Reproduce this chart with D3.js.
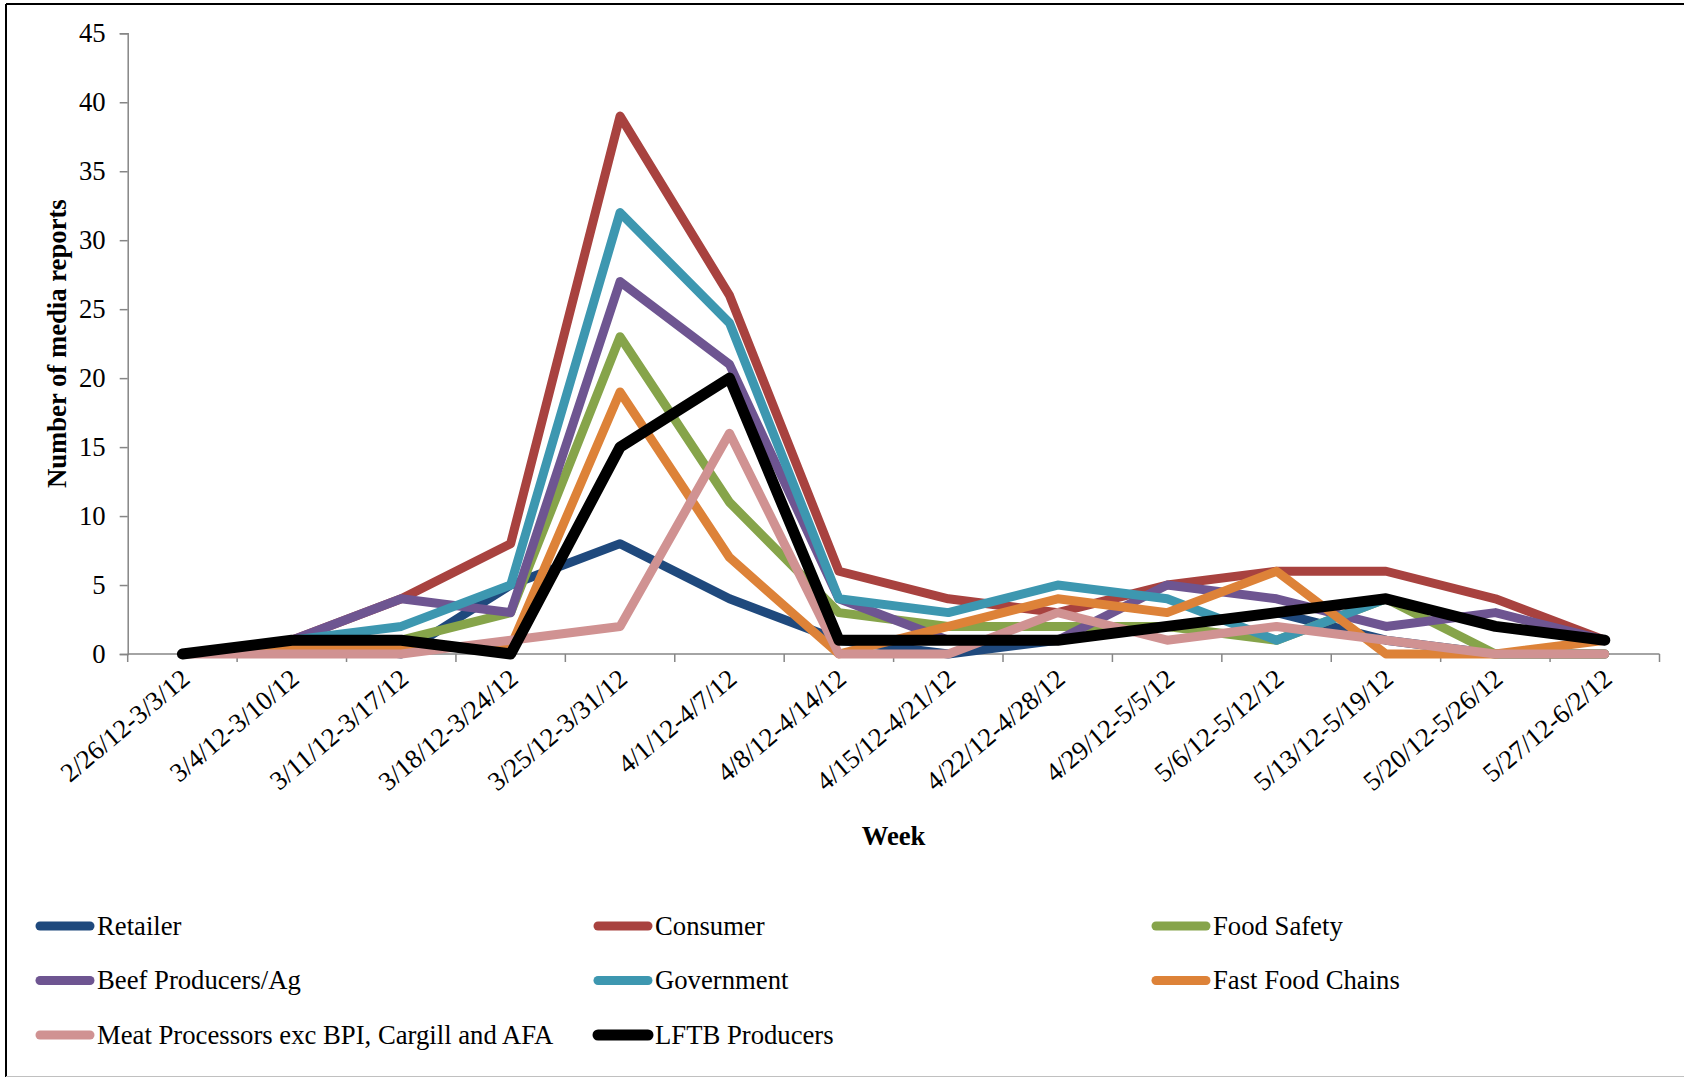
<!DOCTYPE html>
<html>
<head>
<meta charset="utf-8">
<script src="https://cdn.jsdelivr.net/npm/d3@7"></script>
<style>
  html, body { margin: 0; padding: 0; background: #fff; }
  svg { display: block; }
  text { font-family: "Liberation Serif", "Times New Roman", serif; fill: #000; }
</style>
</head>
<body>
<svg id="chart" width="1684" height="1077"></svg>
<script>
// Weekly media reports by stakeholder group
const weeks = [
  "2/26/12-3/3/12", "3/4/12-3/10/12", "3/11/12-3/17/12", "3/18/12-3/24/12",
  "3/25/12-3/31/12", "4/1/12-4/7/12", "4/8/12-4/14/12", "4/15/12-4/21/12",
  "4/22/12-4/28/12", "4/29/12-5/5/12", "5/6/12-5/12/12", "5/13/12-5/19/12",
  "5/20/12-5/26/12", "5/27/12-6/2/12"
];
const seriesNames = [
  "Retailer", "Consumer", "Food Safety", "Beef Producers/Ag", "Government",
  "Fast Food Chains", "Meat Processors exc BPI, Cargill and AFA", "LFTB Producers"
];
const retailer       = [0, 1, 0, 5, 8, 4, 1, 0, 1, 2, 3, 1, 0, 0];
const consumer       = [0, 1, 4, 8, 39, 26, 6, 4, 3, 5, 6, 6, 4, 1];
const foodSafety     = [0, 1, 1, 3, 23, 11, 3, 2, 2, 2, 1, 4, 0, 0];
const beefProducers  = [0, 1, 4, 3, 27, 21, 4, 1, 1, 5, 4, 2, 3, 1];
const government     = [0, 1, 2, 5, 32, 24, 4, 3, 5, 4, 1, 4, 2, 1];
const fastFood       = [0, 0.5, 0.5, 0.5, 19, 7, 0, 2, 4, 3, 6, 0, 0, 1];
const meatProcessors = [0, 0, 0, 1, 2, 16, 0, 0, 3, 1, 2, 1, 0, 0];
const lftbProducers  = [0, 1, 1, 0, 15, 20, 1, 1, 1, 2, 3, 4, 2, 1];
const yTicks = [0, 5, 10, 15, 20, 25, 30, 35, 40, 45];

const seriesValues = [retailer, consumer, foodSafety, beefProducers, government,
                      fastFood, meatProcessors, lftbProducers];
const seriesColors = ["#1F497D", "#A8423F", "#86A44A", "#6E5591", "#3D97B0",
                      "#DD8238", "#D09292", "#000000"];

const svg = d3.select("#chart");
const plot = { left: 127.7, right: 1659.5, top: 33.3, bottom: 654 };
const FONT = 26.7;

// Outer frame
svg.append("line").attr("x1", 6).attr("y1", 4).attr("x2", 1684).attr("y2", 4)
  .attr("stroke", "#000").attr("stroke-width", 2);
svg.append("line").attr("x1", 6).attr("y1", 4).attr("x2", 6).attr("y2", 1077)
  .attr("stroke", "#000").attr("stroke-width", 2);
svg.append("line").attr("x1", 6).attr("y1", 1076.5).attr("x2", 1684).attr("y2", 1076.5)
  .attr("stroke", "#c0c0c0").attr("stroke-width", 1);

const x = d3.scaleBand().domain(weeks).range([plot.left, plot.right]);
const y = d3.scaleLinear().domain([0, 45]).range([plot.bottom, plot.top]);
const cx = w => x(w) + x.bandwidth() / 2;

// Y axis
const yAxis = svg.append("g")
  .attr("transform", `translate(${plot.left},0)`)
  .call(d3.axisLeft(y).tickValues(yTicks).tickSize(8).tickPadding(14));
yAxis.select(".domain").attr("stroke", "#868686").attr("stroke-width", 1.5);
yAxis.selectAll(".tick line").attr("stroke", "#868686").attr("stroke-width", 1.5);
yAxis.selectAll(".tick text")
  .style("font-family", '"Liberation Serif", serif')
  .style("font-size", FONT + "px").attr("fill", "#000");

// X axis with category boundary ticks
const xAxis = svg.append("g")
  .attr("transform", `translate(0,${plot.bottom})`);
xAxis.append("line").attr("x1", plot.left).attr("x2", plot.right)
  .attr("stroke", "#868686").attr("stroke-width", 1.5);
const boundaries = d3.range(weeks.length + 1).map(i => plot.left + i * x.bandwidth());
xAxis.selectAll(".bt").data(boundaries).join("line")
  .attr("class", "bt")
  .attr("x1", d => d).attr("x2", d => d).attr("y1", 0).attr("y2", 8)
  .attr("stroke", "#868686").attr("stroke-width", 1.5);
xAxis.selectAll(".xl").data(weeks).join("text")
  .attr("class", "xl")
  .attr("text-anchor", "end")
  .attr("transform", d => `translate(${cx(d) - 3},${13}) rotate(-40)`)
  .attr("dy", "0.7em")
  .style("font-size", FONT + "px")
  .text(d => d);

// Axis titles
svg.append("text")
  .attr("transform", `translate(66,${(plot.top + plot.bottom) / 2}) rotate(-90)`)
  .attr("text-anchor", "middle")
  .style("font-size", FONT + "px").style("font-weight", "bold")
  .text("Number of media reports");
svg.append("text")
  .attr("x", (plot.left + plot.right) / 2).attr("y", 845)
  .attr("text-anchor", "middle")
  .style("font-size", FONT + "px").style("font-weight", "bold")
  .text("Week");

// Series lines
const line = d3.line()
  .x((d, i) => cx(weeks[i]))
  .y(d => y(d));
svg.append("g").selectAll("path").data(seriesValues).join("path")
  .attr("d", d => line(d))
  .attr("fill", "none")
  .attr("stroke", (d, i) => seriesColors[i])
  .attr("stroke-width", (d, i) => i === 7 ? 11 : 9)
  .attr("stroke-linejoin", "round")
  .attr("stroke-linecap", "round");

// Legend: three columns, three rows
const legendCols = [40, 598, 1156];
const legendRows = [926, 980.5, 1035];
const legend = svg.append("g").selectAll("g").data(seriesNames).join("g")
  .attr("transform", (d, i) => `translate(${legendCols[i % 3]},${legendRows[Math.floor(i / 3)]})`);
legend.append("line")
  .attr("x1", 0).attr("x2", 50).attr("y1", 0).attr("y2", 0)
  .attr("stroke", (d, i) => seriesColors[i])
  .attr("stroke-width", (d, i) => i === 7 ? 11 : 9)
  .attr("stroke-linecap", "round");
legend.append("text")
  .attr("x", 57).attr("y", 0).attr("dy", "0.33em")
  .style("font-size", FONT + "px")
  .text(d => d);
</script>
</body>
</html>
